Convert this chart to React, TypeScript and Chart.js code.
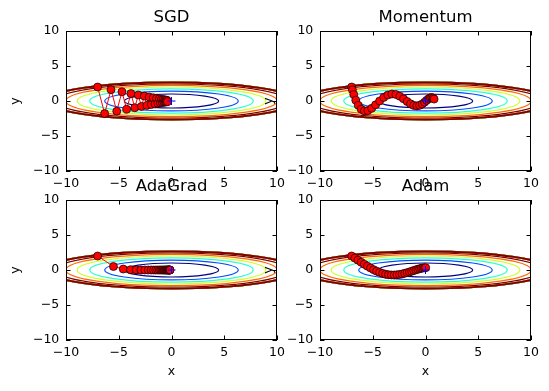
import React, { useEffect, useRef } from "react";
import { Chart, registerables } from "chart.js";
Chart.register(...registerables);

// ---------- data ----------
const panelTitles = ["SGD", "Momentum", "AdaGrad", "Adam"];

const sgdX = [-7, -6.335, -5.7332, -5.1885, -4.6956, -4.2495, -3.8458, -3.4805, -3.1498, -2.8506, -2.5798, -2.3347, -2.1129, -1.9122, -1.7305, -1.5661, -1.4173, -1.2827, -1.1608, -1.0505, -0.9507, -0.8604, -0.7787, -0.7047, -0.6377, -0.5771, -0.5223, -0.4727, -0.4278, -0.3871];
const sgdY = [2, -1.8, 1.62, -1.458, 1.3122, -1.181, 1.0629, -0.9566, 0.8609, -0.7748, 0.6974, -0.6276, 0.5649, -0.5084, 0.4575, -0.4118, 0.3706, -0.3335, 0.3002, -0.2702, 0.2432, -0.2188, 0.197, -0.1773, 0.1595, -0.1436, 0.1292, -0.1163, 0.1047, -0.0942];

const momentumX = [-7, -6.93, -6.7977, -6.6107, -6.3762, -6.1014, -5.7931, -5.4577, -5.1013, -4.7295, -4.3476, -3.9603, -3.5723, -3.1872, -2.8089, -2.4402, -2.0841, -1.7427, -1.418, -1.1116, -0.8248, -0.5583, -0.313, -0.089, 0.1135, 0.2945, 0.4546, 0.594, 0.7136, 0.8141];
const momentumY = [2, 1.6, 0.92, 0.124, -0.6172, -1.1608, -1.4179, -1.3658, -1.0456, -0.5484, 0.0088, 0.5085, 0.8566, 0.9985, 0.9265, 0.6764, 0.3161, -0.0714, -0.4059, -0.6258, -0.6985, -0.6242, -0.4326, -0.1735, 0.0943, 0.3165, 0.4532, 0.4855, 0.4176, 0.2729];

const adagradX = [-7, -5.5, -4.5733, -3.8878, -3.3447, -2.8986, -2.5242, -2.2056, -1.9319, -1.6951, -1.4894, -1.3099, -1.1529, -1.0153, -0.8945, -0.7884, -0.695, -0.6128, -0.5405, -0.4767, -0.4205, -0.3709, -0.3272, -0.2887, -0.2547, -0.2247, -0.1983, -0.1749, -0.1543, -0.1362];
const adagradY = [2, 0.5, 0.1362, 0.0373, 0.0102, 0.0028, 0.0008, 0.0002, 0.0001, 0, 0, 0, 0, 0, 0, 0, 0, 0, 0, 0, 0, 0, 0, 0, 0, 0, 0, 0, 0, 0];

const adamX = [-7, -6.7, -6.4004, -6.1015, -5.8037, -5.5073, -5.2126, -4.92, -4.63, -4.343, -4.0594, -3.7797, -3.5044, -3.2339, -2.9689, -2.7098, -2.4571, -2.2114, -1.9732, -1.7431, -1.5215, -1.3089, -1.1058, -0.9126, -0.7297, -0.5575, -0.3962, -0.2461, -0.1073, 0.0201];
const adamY = [2, 1.7, 1.4022, 1.1089, 0.8228, 0.5477, 0.288, 0.0489, -0.1641, -0.3456, -0.4918, -0.6004, -0.6713, -0.7063, -0.7085, -0.682, -0.6314, -0.5612, -0.476, -0.3804, -0.2789, -0.1756, -0.0745, 0.0205, 0.1062, 0.1798, 0.2392, 0.2829, 0.3105, 0.3219];

const pathsX = [sgdX, momentumX, adagradX, adamX];
const pathsY = [sgdY, momentumY, adagradY, adamY];

const axisTicks = [-10, -5, 0, 5, 10];
const axisMin = -10;
const axisMax = 10;
const minimumPoint = [0, 0];

// contour of f(x, y) = x^2/20 + y^2 ; region f > 7 masked to 0
const fCoefX = 1 / 20;
const fCoefY = 1;
const contourLevels = [1, 2, 3, 4, 5, 6];
const maskLevel = 7;

// ---------- styles / layout ----------
const contourColors = ["#000080", "#004dff", "#29ffce", "#ceff29", "#ff6800", "#800000"];
const FONT = "'DejaVu Sans', 'Liberation Sans', sans-serif";

type Panel = {
  left: number; top: number; w: number; h: number;
  pl: number; pt: number; pr: number; pb: number;
  showXTitle: boolean; yTitlePad: number;
};

const panels: Panel[] = [
  { left: 0, top: 0, w: 290, h: 195, pl: 66, pt: 31, pr: 277, pb: 171, showXTitle: false, yTitlePad: 7.8 },
  { left: 250, top: 0, w: 299, h: 195, pl: 70, pt: 31, pr: 281, pb: 171, showXTitle: false, yTitlePad: 11.5 },
  { left: 0, top: 175, w: 290, h: 216, pl: 66, pt: 25, pr: 277, pb: 165, showXTitle: true, yTitlePad: 7.8 },
  { left: 250, top: 175, w: 299, h: 216, pl: 70, pt: 25, pr: 281, pb: 165, showXTitle: true, yTitlePad: 11.5 },
];

const fmt = (v: number) => (v < 0 ? "\u2212" + Math.abs(v) : String(v));

const contourPlugin = {
  id: "contours",
  beforeDatasetsDraw(chart: any) {
    const { ctx, chartArea, scales } = chart;
    const x = scales.x, y = scales.y;
    ctx.save();
    ctx.beginPath();
    ctx.rect(chartArea.left, chartArea.top, chartArea.right - chartArea.left, chartArea.bottom - chartArea.top);
    ctx.clip();
    const cx = x.getPixelForValue(0), cy = y.getPixelForValue(0);
    const ell = (c: number, color: string, w: number) => {
      const rx = Math.abs(x.getPixelForValue(Math.sqrt(c / fCoefX)) - cx);
      const ry = Math.abs(y.getPixelForValue(Math.sqrt(c / fCoefY)) - cy);
      ctx.beginPath();
      ctx.ellipse(cx, cy, rx, ry, 0, 0, Math.PI * 2);
      ctx.strokeStyle = color;
      ctx.lineWidth = w;
      ctx.stroke();
    };
    contourLevels.forEach((c, i) => ell(c, contourColors[i], 1.2));
    // at the mask boundary every level collapses onto the same curve
    contourLevels.forEach((c, i) => ell(maskLevel, contourColors[i], 1.9));
    ctx.restore();
  },
};

const framePlugin = {
  id: "frame",
  afterDraw(chart: any) {
    const { ctx, chartArea, scales } = chart;
    const x = scales.x, y = scales.y;
    const { left, right, top, bottom } = chartArea;
    ctx.save();
    ctx.strokeStyle = "#000";
    ctx.lineWidth = 1;
    ctx.strokeRect(left + 0.5, top + 0.5, right - left - 1, bottom - top - 1);
    const L = 4.5;
    ctx.beginPath();
    axisTicks.forEach((t) => {
      const px = Math.round(x.getPixelForValue(t)) + 0.5;
      ctx.moveTo(px, bottom); ctx.lineTo(px, bottom - L);
      ctx.moveTo(px, top); ctx.lineTo(px, top + L);
      const py = Math.round(y.getPixelForValue(t)) + 0.5;
      ctx.moveTo(left, py); ctx.lineTo(left + L, py);
      ctx.moveTo(right, py); ctx.lineTo(right - L, py);
    });
    ctx.stroke();
    ctx.restore();
  },
};

function PanelChart({ idx }: { idx: number }) {
  const ref = useRef<HTMLCanvasElement | null>(null);
  const p = panels[idx];
  useEffect(() => {
    if (!ref.current) return;
    const titleSize = 16.5;
    const titleLH = titleSize * 1.2;
    const titleCenter = p.pt - 13.5;
    const tPadTop = titleCenter - titleLH / 2;
    const tPadBottom = p.pt - tPadTop - titleLH;
    const pathData = pathsX[idx].map((v, i) => ({ x: v, y: pathsY[idx][i] }));
    const chart = new Chart(ref.current, {
      type: "line",
      data: {
        datasets: [
          {
            data: [{ x: minimumPoint[0], y: minimumPoint[1] }],
            showLine: false,
            pointStyle: "cross",
            pointRadius: 4,
            pointBorderColor: "#0000ff",
            pointBorderWidth: 1,
            borderColor: "#0000ff",
          },
          {
            data: pathData,
            showLine: true,
            borderColor: "#ff0000",
            borderWidth: 1,
            tension: 0,
            pointRadius: 4,
            pointBackgroundColor: "#ff0000",
            pointBorderColor: "#000000",
            pointBorderWidth: 0.7,
          },
        ],
      } as any,
      options: {
        responsive: false,
        animation: false,
        events: [],
        layout: { padding: { left: 0, top: 0, right: p.w - p.pr, bottom: 0 } },
        plugins: {
          legend: { display: false },
          tooltip: { enabled: false },
          title: {
            display: true,
            text: panelTitles[idx],
            fullSize: false,
            color: "#000",
            font: { family: FONT, size: titleSize, weight: "normal", lineHeight: 1.2 },
            padding: { top: tPadTop, bottom: tPadBottom },
          },
        },
        scales: {
          x: {
            type: "linear",
            min: axisMin,
            max: axisMax,
            afterBuildTicks: (s: any) => { s.ticks = axisTicks.map((v) => ({ value: v })); },
            afterFit: (s: any) => { s.height = p.h - p.pb; },
            grid: { display: false, drawTicks: false },
            border: { display: false },
            ticks: {
              color: "#000",
              font: { family: FONT, size: 12.5 },
              padding: 5,
              maxRotation: 0,
              autoSkip: false,
              callback: (v: any) => fmt(Number(v)),
            },
            title: {
              display: p.showXTitle,
              text: "x",
              color: "#000",
              font: { family: FONT, size: 12.5, lineHeight: 1.2 },
              padding: { top: 0, bottom: 11.5 },
            },
          },
          y: {
            type: "linear",
            min: axisMin,
            max: axisMax,
            afterBuildTicks: (s: any) => { s.ticks = axisTicks.map((v) => ({ value: v })); },
            afterFit: (s: any) => { s.width = p.pl; },
            grid: { display: false, drawTicks: false },
            border: { display: false },
            ticks: {
              color: "#000",
              font: { family: FONT, size: 12.5 },
              padding: 6.7,
              autoSkip: false,
              callback: (v: any) => fmt(Number(v)),
            },
            title: {
              display: true,
              text: "y",
              color: "#000",
              font: { family: FONT, size: 12.5, lineHeight: 1.2 },
              padding: { top: p.yTitlePad, bottom: 0 },
            },
          },
        },
      } as any,
      plugins: [contourPlugin, framePlugin],
    });
    return () => chart.destroy();
  }, [idx]);
  return (
    <canvas
      ref={ref}
      width={p.w}
      height={p.h}
      style={{ position: "absolute", left: p.left, top: p.top, width: p.w, height: p.h, display: "block" }}
    />
  );
}

export default function App() {
  return (
    <div style={{ position: "absolute", left: 0, top: 0, width: 549, height: 391, background: "#fff" }}>
      {panels.map((_, i) => (
        <PanelChart key={i} idx={i} />
      ))}
    </div>
  );
}
